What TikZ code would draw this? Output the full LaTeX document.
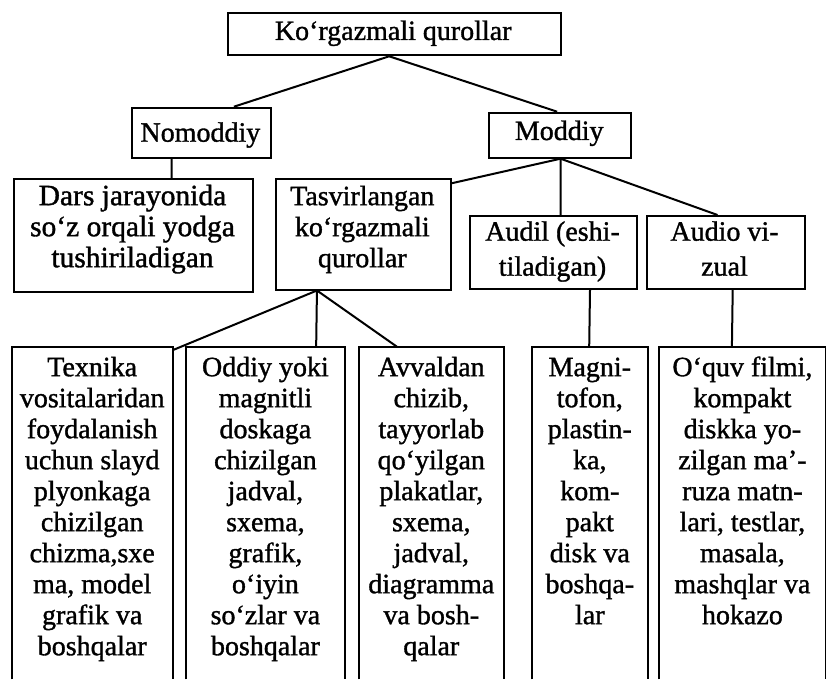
\documentclass[tikz,border=0pt]{standalone}
\usepackage{fontspec}
\setmainfont[FakeBold=1.2]{Liberation Serif}
\begin{document}
\begin{tikzpicture}[x=1pt,y=-1pt,
  frame/.style={draw, line width=2pt, inner sep=0pt, anchor=north west},
  openframe/.style={draw=none, inner sep=0pt, anchor=north west},
  txt/.style={inner sep=0pt, align=center, anchor=north, font=\fontsize{28}{31}\selectfont},
  lbl/.style={inner sep=0pt, anchor=base, font=\fontsize{28}{31}\selectfont},
  conn/.style={line width=2pt}]
\useasboundingbox (0,0) rectangle (826,679);

% frames
\node[frame, minimum width=333pt, minimum height=42.6pt] (top) at (226.7,11.7) {};
\node[frame, minimum width=139.3pt, minimum height=50pt] (nom) at (130.7,106.7) {};
\node[frame, minimum width=142.3pt, minimum height=45pt] (mod) at (488,111.7) {};
\node[frame, minimum width=239.6pt, minimum height=112.4pt] (dars) at (12.7,178.3) {};
\node[frame, minimum width=174.5pt, minimum height=110.2pt] (tas) at (275,178.3) {};
\node[frame, minimum width=167pt, minimum height=73pt] (audil) at (469,215) {};
\node[frame, minimum width=158pt, minimum height=73pt] (audv) at (645.5,215) {};

\node[openframe, minimum width=161pt, minimum height=332.3pt] (texB) at (11.7,346.7) {};
\node[openframe, minimum width=159.3pt, minimum height=332.3pt] (oddB) at (185.7,346.7) {};
\node[openframe, minimum width=144pt, minimum height=332.3pt] (avvB) at (359.3,346.7) {};
\node[openframe, minimum width=115pt, minimum height=332.3pt] (magB) at (532.3,346.7) {};
\node[openframe, minimum width=166.2pt, minimum height=332.3pt] (oquvB) at (659.3,346.7) {};
\foreach \b in {texB,oddB,avvB,magB,oquvB}
  \draw[conn] (\b.south west) -- (\b.north west) -- (\b.north east) -- (\b.south east);

% texts
\node[lbl] (topT) at (393.2,40) {Ko‘rgazmali qurollar};
\node[lbl] (nomT) at (200.4,141.7) {Nomoddiy};
\node[lbl] (modT) at (559.2,140) {Moddiy};
\node[txt, font=\fontsize{29.5}{31}\selectfont] (darsT) at (132.5,183) {\rule{0pt}{22pt}Dars jarayonida\\so‘z orqali yodga\\tushiriladigan};
\node[txt] (tasT) at (362.3,183) {\rule{0pt}{22pt}Tasvirlangan\\ko‘rgazmali\\qurollar};
\node[txt, font=\fontsize{28}{35}\selectfont] (audilT) at (552.5,218.5) {\rule{0pt}{22pt}Audil (eshi-\\tiladigan)};
\node[txt, font=\fontsize{28}{35}\selectfont] (audvT) at (724.5,218.5) {\rule{0pt}{22pt}Audio vi-\\zual};

\node[txt] (texT) at (92.2,354) {\rule{0pt}{22pt}Texnika\\vositalaridan\\foydalanish\\uchun slayd\\plyonkaga\\chizilgan\\chizma,sxe\\ma, model\\grafik va\\boshqalar};
\node[txt] (oddT) at (265.4,354) {\rule{0pt}{22pt}Oddiy yoki\\magnitli\\doskaga\\chizilgan\\jadval,\\sxema,\\grafik,\\o‘iyin\\so‘zlar va\\boshqalar};
\node[txt] (avvT) at (431.3,354) {\rule{0pt}{22pt}Avvaldan\\chizib,\\tayyorlab\\qo‘yilgan\\plakatlar,\\sxema,\\jadval,\\diagramma\\va bosh-\\qalar};
\node[txt] (magT) at (589.8,354) {\rule{0pt}{22pt}Magni-\\tofon,\\plastin-\\ka,\\kom-\\pakt\\disk va\\boshqa-\\lar};
\node[txt] (oquvT) at (742.4,354) {\rule{0pt}{22pt}O‘quv filmi,\\kompakt\\diskka yo-\\zilgan ma’-\\ruza matn-\\lari, testlar,\\masala,\\mashqlar va\\hokazo};

% connectors
\draw[conn] ([xshift=-5pt]top.south) -- ([xshift=32.6pt]nom.north);
\draw[conn] ([xshift=-5pt]top.south) -- ([xshift=-3pt]mod.north);
\draw[conn] ([xshift=-29.7pt]nom.south) -- ([xshift=38.2pt]dars.north);
\draw[conn] ([xshift=0.4pt]mod.south) -- ([yshift=-5pt]tas.north east);
\draw[conn] ([xshift=0.4pt]mod.south) -- ([xshift=7pt]audil.north);
\draw[conn] ([xshift=0.4pt]mod.south) -- ([xshift=-8pt]audv.north);
\draw[conn] ([xshift=-46.3pt]tas.south) -- ([yshift=-3.3pt]texB.north east);
\draw[conn] ([xshift=-46.3pt]tas.south) -- ([xshift=50.6pt]oddB.north);
\draw[conn] ([xshift=-46.3pt]tas.south) -- ([xshift=-34.6pt]avvB.north);
\draw[conn] ([xshift=36.5pt]audil.south) -- ([xshift=-0.8pt]magB.north);
\draw[conn] ([xshift=7.2pt]audv.south) -- ([xshift=-10.7pt]oquvB.north);
\end{tikzpicture}
\end{document}
